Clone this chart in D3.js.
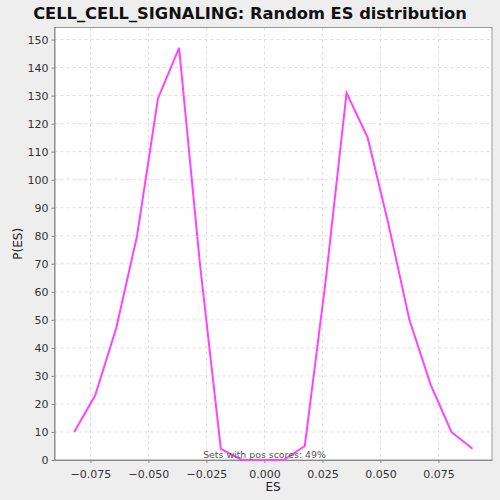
<!DOCTYPE html>
<html>
<head>
<meta charset="utf-8">
<script src="https://cdn.jsdelivr.net/npm/d3@7"></script>
<style>
  body { margin: 0; background: #eeeeee; }
  svg { display: block; font-family: "DejaVu Sans", sans-serif; }
</style>
</head>
<body>
<svg id="chart" width="500" height="500"></svg>
<script>
// chart values
var esValues = [-0.0820, -0.0730, -0.0639, -0.0549, -0.0459, -0.0368, -0.0278, -0.0188, -0.0097, -0.0007,
                0.0083, 0.0174, 0.0264, 0.0354, 0.0445, 0.0535, 0.0625, 0.0716, 0.0806, 0.0897];
var pValues = [10, 23, 47, 80, 129, 147, 70, 4, 0, 0,
               0, 5, 64, 131, 115, 84, 50, 27, 10, 4];
var xTicks = [-0.075, -0.050, -0.025, 0.000, 0.025, 0.050, 0.075];
var yTicks = [0, 10, 20, 30, 40, 50, 60, 70, 80, 90, 100, 110, 120, 130, 140, 150];

var title = "CELL_CELL_SIGNALING: Random ES distribution";
var note = "Sets with pos scores: 49%";

var svg = d3.select("#chart");
// plot box (window.top is read only, so own names)
var padL = 54.5, padR = 492, padT = 27.5, padB = 460;

var x = d3.scaleLinear().domain([-0.0905, 0.0981]).range([padL, padR]);
var y = d3.scaleLinear().domain([0, 154.3]).range([padB, padT]);

// plot background
svg.append("rect")
  .attr("x", padL).attr("y", padT)
  .attr("width", padR - padL).attr("height", padB - padT)
  .attr("fill", "#ffffff");

// grid
svg.append("g").selectAll("line").data(xTicks).join("line")
  .attr("x1", d => x(d)).attr("x2", d => x(d))
  .attr("y1", padT).attr("y2", padB)
  .attr("stroke", "#dddddd").attr("stroke-dasharray", "3,3");
svg.append("g").selectAll("line").data(yTicks.slice(1)).join("line")
  .attr("x1", padL).attr("x2", padR)
  .attr("y1", d => y(d)).attr("y2", d => y(d))
  .attr("stroke", "#dddddd").attr("stroke-dasharray", "3,3");

// border
svg.append("rect")
  .attr("x", padL).attr("y", padT)
  .attr("width", padR - padL).attr("height", padB - padT)
  .attr("fill", "none").attr("stroke", "#999999");

// axes
var fmt = d3.format(".3f");
var xAxis = svg.append("g").attr("transform", "translate(0," + padB + ")")
  .call(d3.axisBottom(x).tickValues(xTicks).tickSize(3).tickSizeOuter(0)
        .tickFormat(d => fmt(d).replace("-", "\u2212")));
var yAxis = svg.append("g").attr("transform", "translate(" + padL + ",0)")
  .call(d3.axisLeft(y).tickValues(yTicks).tickSize(3).tickSizeOuter(0));
[xAxis, yAxis].forEach(function(g) {
  g.select(".domain").attr("stroke", "#888888");
  g.selectAll(".tick line").attr("stroke", "#888888");
  g.selectAll(".tick text").attr("fill", "#333333")
    .style("font-size", "11px").style("font-family", "DejaVu Sans, sans-serif");
});
xAxis.selectAll(".tick text").attr("dy", "1.05em");

// line
var line = d3.line().x((d, i) => x(esValues[i])).y(d => y(d));
svg.append("path").datum(pValues)
  .attr("d", line)
  .attr("fill", "none")
  .attr("stroke", "#ff44ff")
  .attr("stroke-width", 2);

// texts
svg.append("text").attr("x", 250).attr("y", 19)
  .attr("text-anchor", "middle")
  .style("font-size", "16.3px").style("font-weight", "bold")
  .attr("fill", "#111111").text(title);

svg.append("text").attr("x", 273).attr("y", 491)
  .attr("text-anchor", "middle")
  .style("font-size", "12px").attr("fill", "#222222").text("ES");

svg.append("text")
  .attr("transform", "translate(22," + ((padT + padB) / 2) + ") rotate(-90)")
  .attr("text-anchor", "middle")
  .style("font-size", "12px").attr("fill", "#222222").text("P(ES)");

svg.append("text").attr("x", 264.5).attr("y", 458)
  .attr("text-anchor", "middle")
  .style("font-size", "9.4px").attr("fill", "#555555").text(note);
</script>
</body>
</html>
